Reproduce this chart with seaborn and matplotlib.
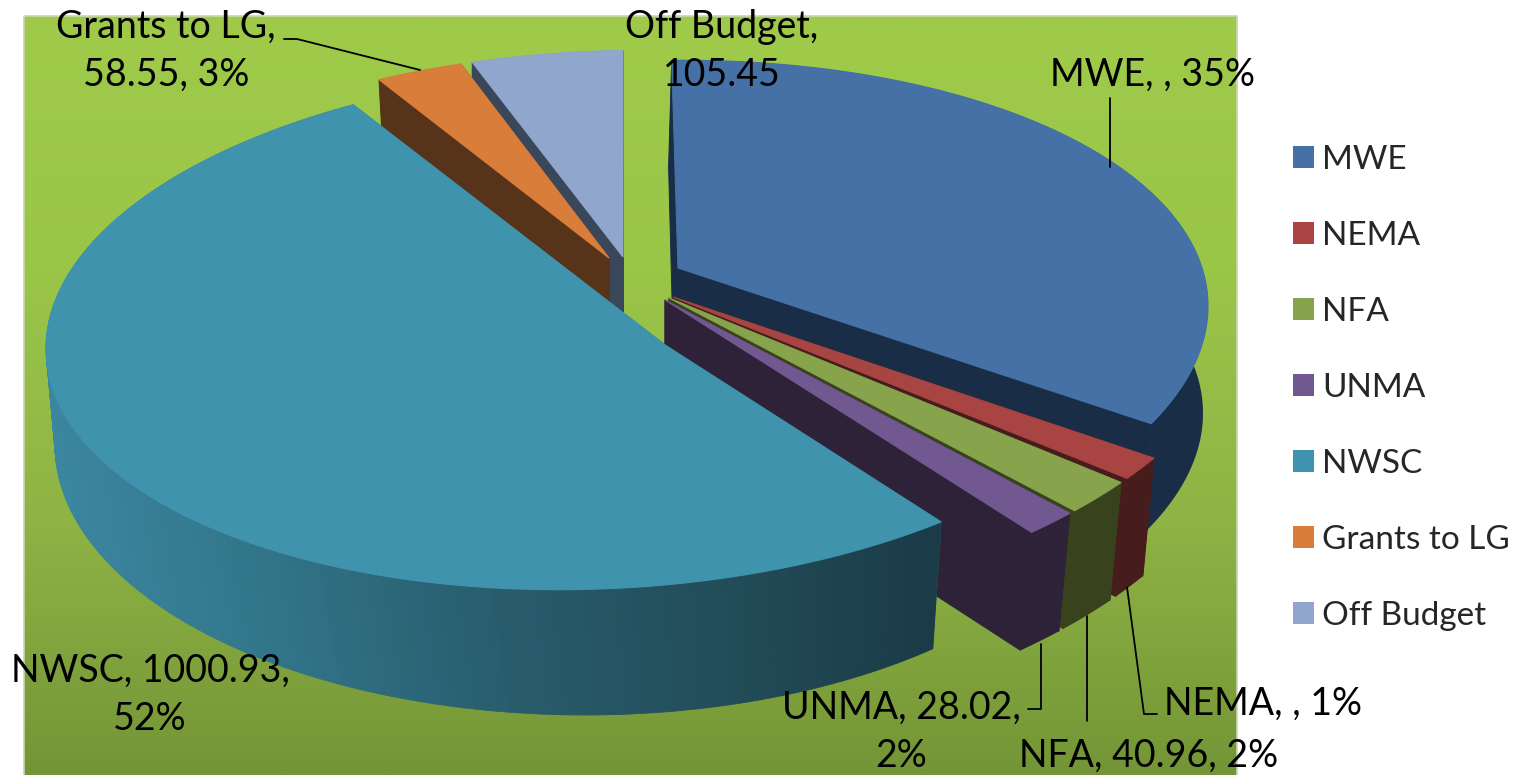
import numpy as np
import matplotlib
matplotlib.use("Agg")
import matplotlib.pyplot as plt
from matplotlib.patches import Patch, Rectangle
import seaborn as sns

# values (MWE and NEMA have no printed value, estimated from their shares)
names = ["MWE", "NEMA", "NFA", "UNMA", "NWSC", "Grants to LG", "Off Budget"]
values = [674.0, 24.0, 40.96, 28.02, 1000.93, 58.55, 105.45]
top_colors = ["#4571A6", "#A84442", "#87A34B", "#725891", "#4093AD", "#D97E3A", "#91A6CD"]
wall_colors = ["#1A2D46", "#471C1C", "#38421D", "#2D2238", "#2F6E82", "#57331A", "#3A465A"]

sns.set_theme(style="white")
plt.rcParams["font.family"] = ["Lato", "DejaVu Sans"]

shares = np.array(values) / sum(values)

# rim ellipses of the slices: cx, cy, rx, ry, shear
upper = (640, 326, 568, 265, 0.035)
near = (640, 334, 608, 290, 0.06)
near_low = (629, 452, 608, 290, 0.06)
far = (600, 316, 568, 265, 0.035)
main = (600, 329, 554, 260, 0.035)

# how every exploded slice sits in the picture
layout = {
    "MWE": dict(apex=(678, 268), apex_low=(674, 375), rim=upper, start=3.2, squeeze=0.897,
                low=(637, 433, 566, 265, 0.035), shift=0),
    "NEMA": dict(apex=(673, 297), apex_low=(673, 415), rim=near, start=122.3, squeeze=1.0,
                 low=near_low, shift=0),
    "NFA": dict(apex=(669, 298), apex_low=(669, 416), rim=near, start=127.7, squeeze=0.875,
                low=near_low, shift=0),
    "UNMA": dict(apex=(665, 300), apex_low=(665, 420), rim=near, start=135, squeeze=0.94,
                 low=near_low, shift=0),
    "NWSC": dict(apex=(665, 345), apex_low=(665, 465), rim=main, start=142, squeeze=1.027,
                 low=(585, 445, 530, 270, 0.0), shift=-3),
    "Grants to LG": dict(apex=(609, 258), apex_low=(609, 368), rim=far, start=-22.9, squeeze=0.8,
                         low=(606, 426, 568, 265, 0.035), shift=0),
    "Off Budget": dict(apex=(623, 257), apex_low=(623, 367), rim=far, start=-13, squeeze=0.78,
                       low=(600, 426, 568, 265, 0.035), shift=0),
}
draw_order = ["Off Budget", "Grants to LG", "MWE", "NEMA", "NFA", "UNMA", "NWSC"]


def rim_xy(phi, ell):
    cx, cy, rx, ry, k = ell
    r = np.radians(phi)
    x = cx + rx * np.sin(r)
    y = cy - ry * np.cos(r) - k * (x - cx)
    return x, y


fig = plt.figure(figsize=(15.25, 7.75), dpi=100)
ax = fig.add_axes([0, 0, 1, 1])

# green backdrop
back = sns.blend_palette(["#9FCA4A", "#9AC648", "#8FB345", "#749536"], as_cmap=True)
ax.imshow(np.linspace(0, 1, 256).reshape(-1, 1), extent=[24, 1237, 775, 16], aspect="auto",
          cmap=back, zorder=0)
ax.add_patch(Rectangle((24, 16), 1213, 775, fill=False, edgecolor="#CBD5B0", lw=1.2, zorder=1))

side_shade = sns.blend_palette(["#3B86A0", "#317488", "#285D6D", "#234D5A", "#1A3B47"], as_cmap=True)

for name in draw_order:
    i = names.index(name)
    s = layout[name]
    phi = np.linspace(s["start"], s["start"] + shares[i] * 360 * s["squeeze"], 160)
    tx, ty = rim_xy(phi, s["rim"])
    bx, by = rim_xy(phi + s["shift"], s["low"])
    ap, al = s["apex"], s["apex_low"]
    wall = wall_colors[i]

    # cut faces
    ax.fill([ap[0], tx[0], bx[0], al[0]], [ap[1], ty[0], by[0], al[1]], color=wall, lw=0.7, zorder=2)
    ax.fill([ap[0], tx[-1], bx[-1], al[0]], [ap[1], ty[-1], by[-1], al[1]], color=wall, lw=0.7, zorder=2)

    # outer wall, NWSC is shaded along its length
    if name == "NWSC":
        for j in range(len(phi) - 1):
            c = side_shade(np.clip((tx[j] - 50) / 890, 0, 1))
            ax.fill([tx[j], tx[j + 1], bx[j + 1], bx[j]], [ty[j], ty[j + 1], by[j + 1], by[j]],
                    color=c, lw=0.6, zorder=2)
    else:
        ax.fill(np.r_[tx, bx[::-1]], np.r_[ty, by[::-1]], color=wall, lw=0, zorder=2)

    # top face
    ax.fill(np.r_[ap[0], tx], np.r_[ap[1], ty], color=top_colors[i], lw=0.8, zorder=2)

# data labels
label_font = 27
labels = [
    ("Grants to LG,\n58.55, 3%", 166, 86),
    ("Off Budget,\n105.45", 722, 86),
    ("MWE, , 35%", 1152, 86),
    ("NWSC, 1000.93,\n52%", 150, 730),
    ("UNMA, 28.02,\n2%", 901, 767),
    ("NEMA, , 1%", 1263, 715),
    ("NFA, 40.96, 2%", 1149, 767),
]
for text, x, y in labels:
    ax.text(x, y, text, fontsize=label_font, ha="center", va="baseline", color="black",
            linespacing=1.42, zorder=5)

# leader lines
leaders = [
    ([284, 297, 420], [39, 39, 70]),
    ([1110, 1110], [98, 167]),
    ([1157, 1144, 1127], [714, 714, 587]),
    ([1087, 1087], [616, 721]),
    ([1028, 1041, 1041], [709, 709, 644]),
]
for lx, ly in leaders:
    ax.plot(lx, ly, color="black", lw=1.3, zorder=4)

# legend
handles = [Patch(facecolor=c, edgecolor="none", label=n) for c, n in zip(top_colors, names)]
ax.legend(handles=handles, loc="upper left", bbox_to_anchor=(1293 / 1525, 1 - 145 / 775), frameon=False,
          fontsize=24, handlelength=0.63, handleheight=0.63, handletextpad=0.24,
          labelspacing=1.38, borderpad=0, borderaxespad=0)

ax.set_xlim(0, 1525)
ax.set_ylim(775, 0)
ax.axis("off")
fig.savefig("out.png", dpi=100, facecolor="white")
